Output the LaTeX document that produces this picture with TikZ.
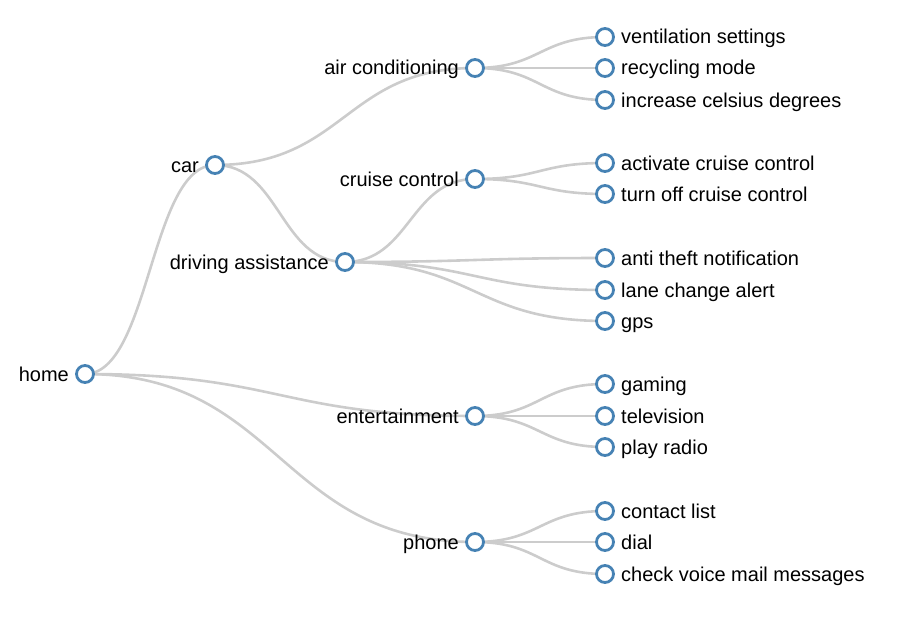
\documentclass[tikz,border=0pt]{standalone}
\usepackage{fontspec}
\setmainfont{Liberation Sans}
\usetikzlibrary{calc}
\definecolor{steel}{HTML}{4682B4}
\definecolor{linkgray}{HTML}{CCCCCC}

\begin{document}
\begin{tikzpicture}[x = 1pt, y = -1pt, font = \fontsize{20}{24}\selectfont,
  link/.style = {draw = linkgray, line width = 2.6pt},
  dot/.style = {circle, draw = steel, fill = white, line width = 2.8pt, minimum size = 17pt, inner sep = 0pt},
  lbl/.style = {inner sep = 0pt}]
\useasboundingbox (0,0) rectangle (922,618);

\coordinate (home) at (85,374);

\coordinate (car) at (215,165);

\coordinate (assist) at (345,262);

\coordinate (aircon) at (475,68);
\coordinate (cruise) at (475,179);
\coordinate (fun) at (475,416);
\coordinate (phone) at (475,542);

\coordinate (vent) at (605,37);
\coordinate (recyc) at (605,68);
\coordinate (incr) at (605,100);
\coordinate (activ) at (605,163);
\coordinate (turnoff) at (605,194);
\coordinate (theft) at (605,258);
\coordinate (lane) at (605,290);
\coordinate (gps) at (605,321);
\coordinate (gaming) at (605,384);
\coordinate (tv) at (605,416);
\coordinate (radio) at (605,447);
\coordinate (contacts) at (605,511);
\coordinate (dial) at (605,542);
\coordinate (voicemail) at (605,574);



\foreach \a/\b in {home/car,home/fun,home/phone,car/aircon,car/assist,assist/cruise,assist/theft,assist/lane,assist/gps,aircon/vent,aircon/recyc,aircon/incr,cruise/activ,cruise/turnoff,fun/gaming,fun/tv,fun/radio,phone/contacts,phone/dial,phone/voicemail}
{  \draw[link] (\a) .. controls ($(\a -| \b)!.5!(\a)$) and ($(\b -| \a)!.5!(\b)$) .. (\b);  }


\foreach \n in {home,car,assist,aircon,cruise,fun,phone,vent,recyc,incr,activ,turnoff,theft,lane,gps,gaming,tv,radio,contacts,dial,voicemail}
{ \node[dot] (\n-dot) at (\n) {}; }

\foreach \n/\t in {home/home,car/car,assist/driving assistance,aircon/air conditioning,cruise/cruise control,fun/entertainment,phone/phone}
{ \node[lbl, anchor = base east] (\n-txt) at ($(\n)+(-16,7)$) {\t}; }

\foreach \n/\t in {vent/ventilation settings,recyc/recycling mode,incr/increase celsius degrees,activ/activate cruise control,turnoff/turn off cruise control,theft/anti theft notification,lane/lane change alert,gps/gps,gaming/gaming,tv/television,radio/play radio,contacts/contact list,dial/dial,voicemail/check voice mail messages}
{ \node[lbl, anchor = base west] (\n-txt) at ($(\n)+(16,7)$) {\t}; }

\end{tikzpicture}
\end{document}
